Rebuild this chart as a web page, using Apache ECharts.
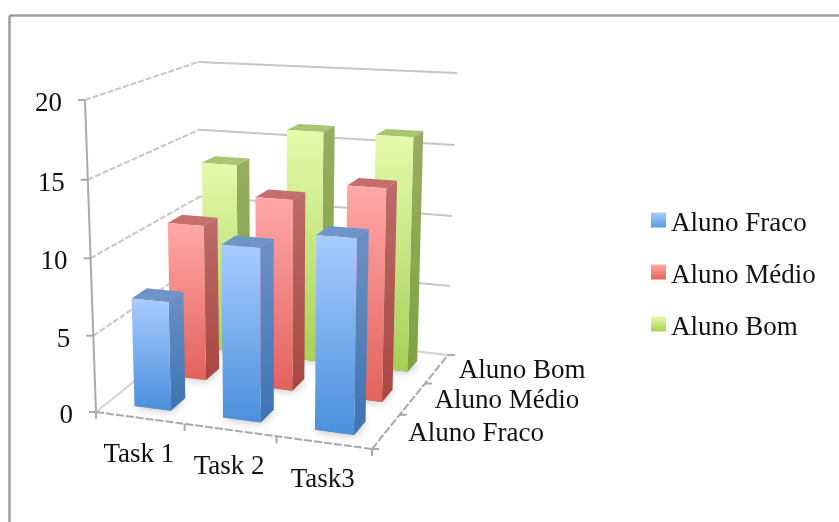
<!DOCTYPE html>
<html>
<head>
<meta charset="utf-8">
<style>html,body{margin:0;padding:0;background:#fff}#chart{width:839px;height:522px}</style>
<script src="https://cdn.jsdelivr.net/npm/echarts@6/dist/echarts.min.js"></script>
</head>
<body>
<div id="chart"></div>
<script>
// Chart content
const tasks = ['Task 1', 'Task 2', 'Task3'];
const students = ['Aluno Fraco', 'Aluno Médio', 'Aluno Bom'];
const alunoFraco = [7.1, 11.1, 12.2];
const alunoMedio = [10.6, 12.8, 14];
const alunoBom = [13.5, 16.2, 16.2];
const valueTicks = [0, 5, 10, 15, 20];

const FONT = '"Liberation Serif", serif';
const TEXT_SIZE = 27;
const BAR_WIDTH = 0.415;  // share of a task cell along the front edge
const BAR_DEPTH = 0.40;   // share of a student row along the side edge
const BAR_OFFSET = 0.005; // boxes sit slightly right of the cell centre
const HEIGHT_FORESHORTEN = 0.03;

// Box corners on screen, in the order front-left, front-right, back-right, back-left
const floorQuad = [[96, 412], [372, 449], [448, 355], [202, 327]];
const topQuad = [[85, 100], [378, 115], [457, 73], [198, 62]];

// Unit square to quadrilateral projective map
function squareToQuad(q) {
  const [x0, y0] = q[0], [x1, y1] = q[1], [x2, y2] = q[2], [x3, y3] = q[3];
  const dx1 = x1 - x2, dx2 = x3 - x2, dx3 = x0 - x1 + x2 - x3;
  const dy1 = y1 - y2, dy2 = y3 - y2, dy3 = y0 - y1 + y2 - y3;
  const det = dx1 * dy2 - dx2 * dy1;
  const g = (dx3 * dy2 - dx2 * dy3) / det;
  const h = (dx1 * dy3 - dx3 * dy1) / det;
  const a = x1 - x0 + g * x1, b = x3 - x0 + h * x3;
  const d = y1 - y0 + g * y1, e = y3 - y0 + h * y3;
  return (u, v) => {
    const w = g * u + h * v + 1;
    return [(a * u + b * v + x0) / w, (d * u + e * v + y0) / w];
  };
}
const floorMap = squareToQuad(floorQuad);
const topMap = squareToQuad(topQuad);

// u: along the tasks, z: into the depth, h: share of the value axis
function project(u, z, h) {
  const p = floorMap(u, z), q = topMap(u, z);
  const t = h / (1 + HEIGHT_FORESHORTEN * (1 - h));
  return [p[0] + (q[0] - p[0]) * t, p[1] + (q[1] - p[1]) * t];
}

const vGrad = (a, b) => new echarts.graphic.LinearGradient(0, 0, 0, 1, [
  { offset: 0, color: a }, { offset: 1, color: b }
]);

const palette = [
  { front: ['#a8ccff', '#4a8fdc'], side: ['#6c90c4', '#3d74b2'], top: '#6f94c8', swatch: ['#a8ccff', '#5b9be0'] },
  { front: ['#ffa8a8', '#e2625c'], side: ['#bb6c6a', '#aa4641'], top: '#c66e6c', swatch: ['#ffa8a8', '#e2625c'] },
  { front: ['#e4fbab', '#a8d058'], side: ['#95ae62', '#7fa23f'], top: '#a8c66f', swatch: ['#e4fbab', '#a8d058'] }
];

const poly = (points, fill, z2) => ({
  type: 'polygon', z2: z2 || 0,
  shape: { points },
  style: { fill, stroke: 'none' }
});

// One series per student row; each datum becomes a box in the projected space
function barRenderer(row) {
  return function (params, api) {
    const grid = params.coordSys;
    const c = api.coord([api.value(0), api.value(1)]);
    const u = (c[0] - grid.x) / grid.width + BAR_OFFSET;
    const h = (grid.y + grid.height - c[1]) / grid.height;
    const uHalf = BAR_WIDTH / tasks.length / 2;
    const zMid = (row + 0.5) / students.length;
    const zHalf = BAR_DEPTH / students.length / 2;
    const u0 = u - uHalf, u1 = u + uHalf, z0 = zMid - zHalf, z1 = zMid + zHalf;
    const col = palette[row];
    const fl = project(u0, z0, h), fr = project(u1, z0, h);
    const bl = project(u0, z1, h), br = project(u1, z1, h);
    const fl0 = project(u0, z0, 0), fr0 = project(u1, z0, 0), br0 = project(u1, z1, 0), bl0 = project(u0, z1, 0);
    return {
      type: 'group',
      children: [
        {
          type: 'polygon',
          shape: { points: [fl0, fr0, br0, bl0] },
          style: { fill: 'rgba(90,90,90,0.55)', shadowBlur: 10, shadowColor: 'rgba(0,0,0,0.55)' }
        },
        poly([fr, br, br0, fr0], vGrad(col.side[0], col.side[1]), 1),
        poly([fl, fr, br, bl], col.top, 2),
        poly([fl, fr, fr0, fl0], vGrad(col.front[0], col.front[1]), 3)
      ]
    };
  };
}

const GRID_COLOR = '#c6c6c6';
const AXIS_COLOR = '#a9a9a9';
const seg = (a, b, stroke, lineWidth, lineDash) => ({
  type: 'line',
  shape: { x1: a[0], y1: a[1], x2: b[0], y2: b[1] },
  style: { stroke, lineWidth, lineDash: lineDash || null }
});
const label = (text, x, y, align) => ({
  type: 'text',
  style: { text, x, y, align, verticalAlign: 'middle', fill: '#111', font: TEXT_SIZE + 'px ' + FONT }
});

// Walls, floor edges, ticks and axis text
function frameRenderer(params, api) {
  const grid = params.coordSys;
  const children = [];
  valueTicks.forEach(v => {
    const h = (grid.y + grid.height - api.coord([0, v])[1]) / grid.height;
    const a = project(0, 0, h), b = project(0, 1, h), c = project(1, 1, h);
    if (v > 0) {
      children.push(seg(a, b, GRID_COLOR, 2, [6, 2]));
      children.push(seg(b, c, GRID_COLOR, 2));
    }
    children.push(seg([a[0] - 7, a[1]], a, AXIS_COLOR, 2));
    children.push(label(String(v), a[0] - 23, a[1] + 4, 'right'));
  });
  // Value axis
  children.push(seg(project(0, 0, 0), project(0, 0, 1), AXIS_COLOR, 2));
  // Floor outline
  const A = project(0, 0, 0), B = project(1, 0, 0), C = project(1, 1, 0), D = project(0, 1, 0);
  children.push(seg(A, D, '#d2d2d2', 2));
  children.push(seg(D, C, '#d2d2d2', 2));
  children.push(seg(A, B, AXIS_COLOR, 2, [8, 2]));
  children.push(seg(B, C, AXIS_COLOR, 2, [8, 2]));
  // Task ticks and names
  for (let i = 0; i <= tasks.length; i++) {
    const p = project(i / tasks.length, 0, 0);
    children.push(seg(p, [p[0], p[1] + 7], AXIS_COLOR, 2));
  }
  tasks.forEach((t, i) => {
    const p = project((i + 0.5) / tasks.length, 0, 0);
    children.push(label(t, p[0] - 1, p[1] + 37, 'center'));
  });
  // Student ticks and names
  for (let i = 0; i <= students.length; i++) {
    const p = project(1, i / students.length, 0);
    children.push(seg(p, [p[0] + 7, p[1]], AXIS_COLOR, 2));
  }
  students.forEach((s, i) => {
    const p = project(1, (i + 0.5) / students.length, 0);
    children.push(label(s, p[0] + 22, p[1] + 2, 'left'));
  });
  return { type: 'group', children };
}

const rows = [alunoFraco, alunoMedio, alunoBom];

const option = {
  animation: false,
  backgroundColor: '#fff',
  grid: { left: 96, width: 276, top: 100, height: 312 },
  xAxis: { type: 'category', data: tasks, show: false },
  yAxis: { type: 'value', min: 0, max: 20, interval: 5, show: false },
  legend: {
    orient: 'vertical',
    left: 651,
    top: 202.5,
    padding: 0,
    itemWidth: 15,
    itemHeight: 15,
    itemGap: 17,
    icon: 'rect',
    formatter: name => '{t|' + name + '}',
    textStyle: {
      rich: {
        t: { fontFamily: FONT, fontSize: TEXT_SIZE, color: '#111', lineHeight: 26, padding: [8, 0, 0, 0] }
      }
    },
    data: students.map((name, i) => ({
      name,
      itemStyle: { color: vGrad(palette[i].swatch[0], palette[i].swatch[1]) }
    }))
  },
  graphic: [
    { type: 'line', shape: { x1: 9.5, y1: 15.5, x2: 839, y2: 15.5 }, style: { stroke: '#9c9c9c', lineWidth: 2.5 } },
    { type: 'line', shape: { x1: 9.5, y1: 15.5, x2: 9.5, y2: 522 }, style: { stroke: '#9c9c9c', lineWidth: 2.5 } }
  ],
  series: [
    {
      type: 'custom', name: 'frame', z: 1, silent: true, clip: false,
      coordinateSystem: 'cartesian2d',
      renderItem: frameRenderer,
      data: [[0, 0]]
    }
  ].concat(students.map((name, row) => ({
    type: 'custom',
    name,
    z: 6 - row,
    clip: false,
    coordinateSystem: 'cartesian2d',
    renderItem: barRenderer(row),
    encode: { x: 0, y: 1 },
    itemStyle: { color: palette[row].swatch[1] },
    data: rows[row].map((v, i) => [i, v])
  })))
};

echarts.init(document.getElementById('chart')).setOption(option);
</script>
</body>
</html>
